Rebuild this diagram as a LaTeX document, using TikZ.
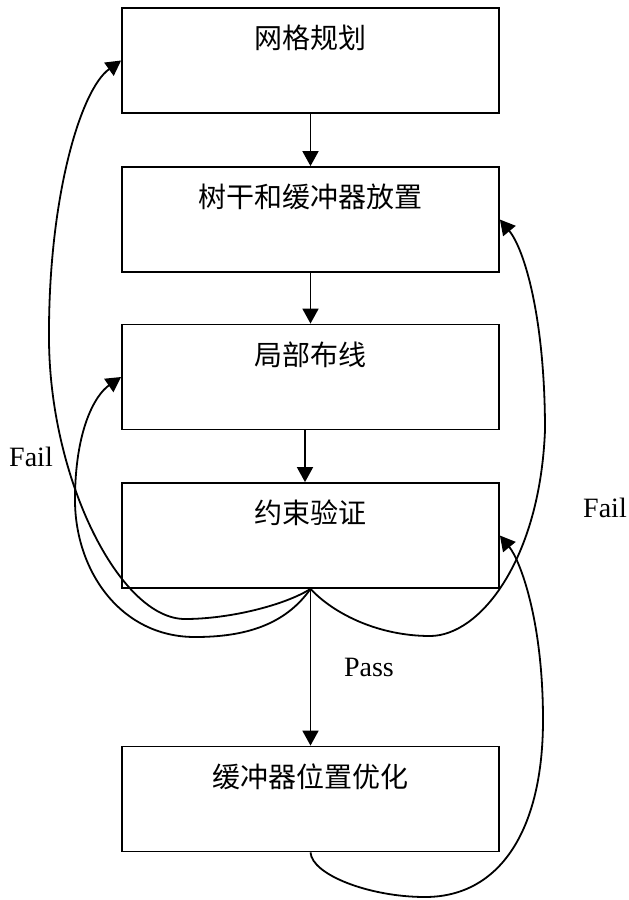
\documentclass[tikz,border=0pt]{standalone}
\usepackage{fontspec}
\setmainfont{Liberation Serif}
\newfontfamily\cjk{Noto Sans CJK SC}
\usetikzlibrary{arrows.meta}

\tikzset{
  stage/.style={draw, line width=1.8pt, rectangle, inner sep=0pt,
    text width=377pt, align=center, text height=40.5pt, text depth=64.5pt,
    font=\cjk\fontsize{28}{30}\selectfont},
  flow/.style={line width=1.8pt, -{Triangle[length=15pt,width=16pt]}},
  tag/.style={font=\fontsize{28}{30}\selectfont, inner sep=0pt}
}

\begin{document}
\begin{tikzpicture}[x=1pt, y=-1pt]
\useasboundingbox (0,0) rectangle (629,900);

% process stages
\node[stage] (b1) at (310.5,60.5) {网格规划};
\node[stage] (b2) at (310.5,219.5) {树干和缓冲器放置};
\node[stage] (b3) at (310.5,377) {局部布线};
\node[stage] (b4) at (310.5,535.5) {约束验证};
\node[stage] (b5) at (310.5,799) {缓冲器位置优化};

% main flow
\draw[flow] (b1.south) -- (b2.north);
\draw[flow] (b2.south) -- (b3.north);
\draw[flow] ([xshift=-5.5pt]b3.south) -- ([xshift=-5.5pt]b4.north);
\draw[flow] (b4.south) -- (b5.north);

% feedback loops from the check
\draw[flow] (b4.south) .. controls (285,605) and (230,619) .. (185,619)
  .. controls (120,619) and (50,480) .. (49,340)
  .. controls (48,200) and (80,90) .. (b1.west);
\draw[flow] (b4.south) .. controls (285,625) and (245,637) .. (195,637)
  .. controls (120,637) and (75,570) .. (75,500)
  .. controls (75,430) and (95,395) .. (b3.west);
\draw[flow] (b4.south) .. controls (335,615) and (380,636) .. (430,636)
  .. controls (480,636) and (540,560) .. (545,430)
  .. controls (545,320) and (525,250) .. (b2.east);
\draw[flow] (b5.south) .. controls (312,875) and (370,897) .. (425,897)
  .. controls (500,897) and (543,830) .. (543,720)
  .. controls (543,620) and (520,560) .. (b4.east);

% labels
\node[tag] (failL) at (31,457) {Fail};
\node[tag] (failR) at (605,508) {Fail};
\node[tag] (pass) at (369,667) {Pass};
\end{tikzpicture}
\end{document}
